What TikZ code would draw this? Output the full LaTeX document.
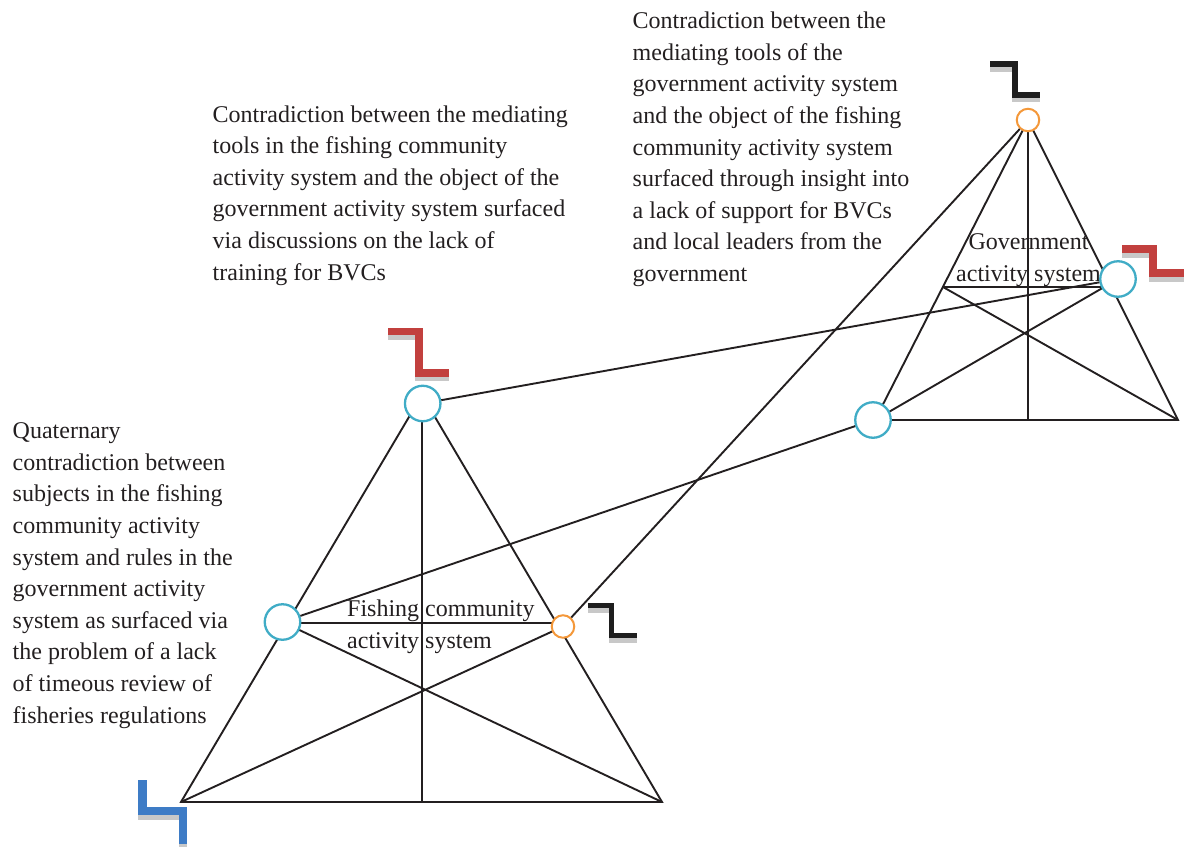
\documentclass[tikz,border=0pt]{standalone}
\usepackage{fontspec}
\setmainfont{Liberation Serif}
\definecolor{ink}{RGB}{35,31,32}
\definecolor{ringteal}{RGB}{64,172,198}
\definecolor{ringorange}{RGB}{244,152,58}
\definecolor{flagred}{RGB}{194,64,62}
\definecolor{flagblue}{RGB}{62,124,198}
\definecolor{flagblack}{RGB}{30,30,30}
\definecolor{flagshadow}{RGB}{200,200,200}
\tikzset{
  edgeline/.style={draw=ink, line width=1.9pt},
  bigring/.style={circle, draw=ringteal, line width=2.3pt, fill=white, minimum size=35.5pt, inner sep=0pt},
  smallring/.style={circle, draw=ringorange, line width=2pt, fill=white, minimum size=22.5pt, inner sep=0pt},
  flagshade/.style={draw=flagshadow, line cap=butt, line join=miter, shift={(0,4.5)}},
  flagbar/.style={line cap=butt, line join=miter},
  bodytext/.style={font=\fontsize{24}{31.6}\selectfont, text=ink, inner sep=0pt, align=left, anchor=north west},
}
\begin{document}
\begin{tikzpicture}[x=1pt,y=-1pt]
\useasboundingbox (0,0) rectangle (1186,846);

% ---- fishing community activity system: vertices and ring centres
\coordinate (fApex) at (422,395);
\coordinate (fRules) at (181,802);
\coordinate (fComm) at (422,802);
\coordinate (fDiv) at (662,802);
\coordinate (fToolC) at (422.7,403.5);
\coordinate (fSubjC) at (282.5,622);
\coordinate (fObjC) at (563,626.5);
\coordinate (fMidL) at (282.5,623);
\coordinate (fMidR) at (563,623);

% ---- government activity system: vertices and ring centres
\coordinate (gApex) at (1028,120);
\coordinate (gRules) at (875,420);
\coordinate (gComm) at (1028,420);
\coordinate (gDiv) at (1178,420);
\coordinate (gSubj) at (943,287);
\coordinate (gObjEnd) at (1111.5,287);
\coordinate (gRulesC) at (873,420);
\coordinate (gObjC) at (1118,279);

% ---- triangle frames
\draw[edgeline] (fApex) -- (fRules) -- (fDiv) -- cycle;
\draw[edgeline] (fApex) -- (fComm);
\draw[edgeline] (fMidL) -- (fMidR);
\draw[edgeline] (fSubjC) -- (fDiv);
\draw[edgeline] (fObjC) -- (fRules);

\draw[edgeline] (gApex) -- (gRules) -- (gDiv) -- cycle;
\draw[edgeline] (gApex) -- (gComm);
\draw[edgeline] (gSubj) -- (gObjEnd);
\draw[edgeline] (gSubj) -- (gDiv);
\draw[edgeline] (gObjC) -- (gRules);

% ---- triangle captions
\node[bodytext] (fLabel) at (347,599.6) {Fishing community\\activity system};
\node[bodytext, align=center, anchor=north] (gLabel) at (1028.5,233.6) {Government\\activity system};

% ---- rings
\node[bigring] (fTool) at (fToolC) {};
\node[bigring] (fSubj) at (fSubjC) {};
\node[smallring] (fObj) at (fObjC) {};
\node[smallring] (gTool) at (gApex) {};
\node[bigring] (gRule) at (gRulesC) {};
\node[bigring] (gObj) at (gObjC) {};

% ---- contradictions between the two systems
\draw[edgeline] (fTool) -- (gObj);
\draw[edgeline] (fSubj) -- (gRule);
\draw[edgeline] (fObj) -- (gTool);

% ---- step markers with drop shadow
\draw[flagshade, line width=7.5pt] (388,331.5) -- (419,331.5) -- (419,373) -- (449,373);
\draw[flagbar, draw=flagred, line width=7.5pt] (388,331.5) -- (419,331.5) -- (419,373) -- (449,373);

\draw[flagshade, line width=5.5pt] (588,605.5) -- (611.5,605.5) -- (611.5,635.5) -- (637,635.5);
\draw[flagbar, draw=flagblack, line width=5.5pt] (588,605.5) -- (611.5,605.5) -- (611.5,635.5) -- (637,635.5);

\draw[flagshade, line width=8.5pt] (142.5,780) -- (142.5,811) -- (183,811) -- (183,844);
\draw[flagbar, draw=flagblue, line width=8.5pt] (142.5,780) -- (142.5,811) -- (183,811) -- (183,844);

\draw[flagshade, line width=6pt] (990,64) -- (1014.5,64) -- (1014.5,94.5) -- (1040,94.5);
\draw[flagbar, draw=flagblack, line width=6pt] (990,64) -- (1014.5,64) -- (1014.5,94.5) -- (1040,94.5);

\draw[flagshade, line width=8pt] (1122,249) -- (1153,249) -- (1153,273) -- (1184,273);
\draw[flagbar, draw=flagred, line width=8pt] (1122,249) -- (1153,249) -- (1153,273) -- (1184,273);

% ---- explanatory texts
\node[bodytext] (noteTools) at (212.5,105.3) {Contradiction between the mediating\\tools in the fishing community\\activity system and the object of the\\government activity system surfaced\\via discussions on the lack of\\training for BVCs};

\node[bodytext] (noteGov) at (632.5,11.9) {Contradiction between the\\mediating tools of the\\government activity system\\and the object of the fishing\\community activity system\\surfaced through insight into\\a lack of support for BVCs\\and local leaders from the\\government};

\node[bodytext] (noteQuat) at (12.5,422.5) {Quaternary\\contradiction between\\subjects in the fishing\\community activity\\system and rules in the\\government activity\\system as surfaced via\\the problem of a lack\\of timeous review of\\fisheries regulations};
\end{tikzpicture}
\end{document}
